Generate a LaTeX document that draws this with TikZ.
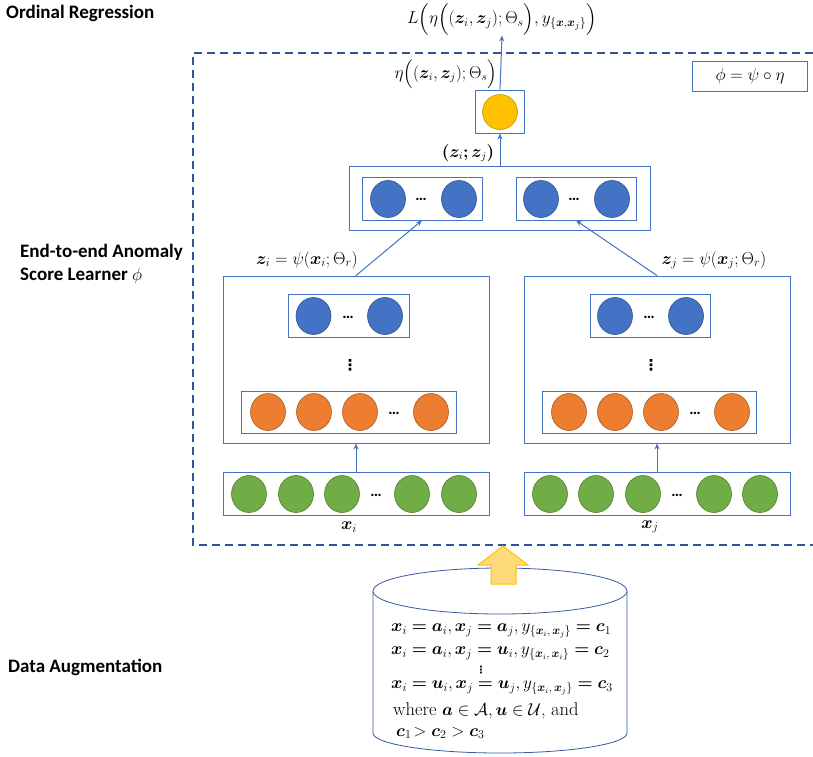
\documentclass[tikz,border=0pt]{standalone}
\usepackage{fontspec}
\usepackage{amsmath,amssymb,bm}
\usetikzlibrary{shapes.geometric,arrows.meta,calc}
\newfontfamily\lblfont{Carlito}
\newfontfamily\djv{DejaVu Sans}
\definecolor{bfill}{HTML}{4472C4}
\definecolor{bdraw}{HTML}{2F528F}
\definecolor{ofill}{HTML}{ED7D31}
\definecolor{odraw}{HTML}{AE5A21}
\definecolor{gfill}{HTML}{70AD47}
\definecolor{gdraw}{HTML}{507E32}
\definecolor{yfill}{HTML}{FFC000}
\definecolor{ydraw}{HTML}{BF9000}
\definecolor{lineblue}{HTML}{4472C4}
\definecolor{dashblue}{HTML}{2F5597}
\definecolor{afill}{HTML}{FFDA7A}
\definecolor{adraw}{HTML}{FFC000}
\begin{document}
\begin{tikzpicture}[x=1pt,y=-1pt,
  box/.style={draw=lineblue, line width=0.9pt, inner sep=0pt},
  neuron/.style={ellipse, minimum width=35pt, minimum height=37pt, line width=0.6pt, inner sep=0pt},
  bn/.style={neuron, fill=bfill, draw=bdraw},
  onn/.style={neuron, fill=ofill, draw=odraw},
  gn/.style={neuron, fill=gfill, draw=gdraw},
  yn/.style={neuron, minimum width=35pt, minimum height=35pt, fill=yfill, draw=ydraw},
  hdots/.style={font=\lblfont\bfseries\fontsize{16}{16}\selectfont, inner sep=0pt},
  vdotsn/.style={font=\djv\bfseries\fontsize{15}{15}\selectfont, inner sep=0pt},
  mlbl/.style={font=\fontsize{18}{20}\selectfont, inner sep=0pt},
  slbl/.style={font=\lblfont\bfseries\fontsize{19}{23}\selectfont, inner sep=0pt, align=left},
  arr/.style={draw=lineblue, line width=1pt, -{Stealth[length=6pt,width=5pt]}},
  cyltext/.style={font=\fontsize{17}{20}\selectfont, inner sep=0pt, anchor=west}
]
\useasboundingbox (0,0) rectangle (813,756);

% side labels
\node[slbl, anchor=west] (lor) at (6,13) {Ordinal Regression};
\node[slbl, anchor=west] (lend) at (20,264) {End-to-end Anomaly\\Score Learner $\phi$};
\node[slbl, anchor=west] (lda) at (8,667) {Data Augmentation};

% dashed frame
\draw[dashblue, line width=1.8pt, dash pattern=on 8pt off 5pt] (813,53) -- (193,53) -- (193,545) -- (813,545);

% top
\node[mlbl, font=\fontsize{17.5}{20}\selectfont] (title) at (502,19.5) {$L\Big(\eta\Big((\bm{z}_i,\bm{z}_j);\Theta_s\Big),y_{\{\bm{x},\bm{x}_j\}}\Big)$};
\node[mlbl, font=\fontsize{16}{19}\selectfont, anchor=east] (eta) at (497,74) {$\eta\Big((\bm{z}_i,\bm{z}_j);\Theta_s\Big)$};
\node[box, minimum width=115pt, minimum height=30pt, font=\fontsize{17}{19}\selectfont] (phi) at (750,76) {$\phi=\psi\circ\eta$};

\node[box, minimum width=49pt, minimum height=43pt] (ybox) at (500,111.5) {};
\node[yn] (y1) at (500,112) {};
\draw[arr] (ybox.north) -- (title.south);

\node[mlbl, font=\fontsize{16}{19}\selectfont] (zz) at (468,153) {$\bm{(}\bm{z}_i\bm{;}\bm{z}_j\bm{)}$};

% concat
\node[box, minimum width=301pt, minimum height=64pt] (cat) at (500,198) {};
\node[box, minimum width=120pt, minimum height=43pt] (catL) at (422,198.5) {};
\node[box, minimum width=120pt, minimum height=43pt] (catR) at (576,198.5) {};
\node[bn] (cl1) at (388,199) {};
\node[hdots] (cld) at (421,199) {…};
\node[bn] (cl2) at (459,199) {};
\node[bn] (cr1) at (541,199) {};
\node[hdots] (crd) at (574,199) {…};
\node[bn] (cr2) at (612,199) {};
\draw[arr] (cat.north -| ybox.south) -- (ybox.south);

% encoders
\node[box, minimum width=266pt, minimum height=167pt] (encL) at (356,359.5) {};
\node[box, minimum width=266pt, minimum height=167pt] (encR) at (657,359.5) {};
\node[mlbl] (zil) at (307,260) {$\bm{z}_i=\psi(\bm{x}_i;\Theta_r)$};
\node[mlbl] (zjl) at (714,260) {$\bm{z}_j=\psi(\bm{x}_j;\Theta_r)$};
\draw[arr] (encL.north) -- (catL.south);
\draw[arr] (encR.north) -- (catR.south);

% left encoder inner
\node[box, minimum width=121pt, minimum height=43pt] (lb) at (348.5,315.5) {};
\node[bn] (lb1) at (313.5,316) {};
\node[hdots] (lbd) at (348,317) {…};
\node[bn] (lb2) at (385,316) {};
\node[vdotsn] (lvd) at (350,365) {⋮};
\node[box, minimum width=215pt, minimum height=42pt] (lo) at (348.5,412) {};
\node[onn] (lo1) at (268,412) {};
\node[onn] (lo2) at (314,412) {};
\node[onn] (lo3) at (360,412) {};
\node[hdots] (lod) at (394,413) {…};
\node[onn] (lo4) at (431,412) {};

% right encoder inner
\node[box, minimum width=120pt, minimum height=43pt] (rb) at (650,315.5) {};
\node[bn] (rb1) at (615,316) {};
\node[hdots] (rbd) at (649,317) {…};
\node[bn] (rb2) at (686,316) {};
\node[vdotsn] (rvd) at (651,365) {⋮};
\node[box, minimum width=214pt, minimum height=42pt] (ro) at (649,412) {};
\node[onn] (ro1) at (569,412) {};
\node[onn] (ro2) at (615,412) {};
\node[onn] (ro3) at (661,412) {};
\node[hdots] (rod) at (695,413) {…};
\node[onn] (ro4) at (732,412) {};

% inputs
\node[box, minimum width=266pt, minimum height=43pt] (gL) at (356,493.5) {};
\node[box, minimum width=266pt, minimum height=43pt] (gR) at (657,493.5) {};
\node[gn] (gl1) at (249,494) {};
\node[gn] (gl2) at (296,494) {};
\node[gn] (gl3) at (342,494) {};
\node[hdots] (gld) at (376,495) {…};
\node[gn] (gl4) at (412,494) {};
\node[gn] (gl5) at (459,494) {};
\node[gn] (gr1) at (550,494) {};
\node[gn] (gr2) at (596,494) {};
\node[gn] (gr3) at (643,494) {};
\node[hdots] (grd) at (677,495) {…};
\node[gn] (gr4) at (714,494) {};
\node[gn] (gr5) at (760,494) {};
\draw[arr] (gL.north) -- (encL.south);
\draw[arr] (gR.north) -- (encR.south);
\node[mlbl] (xil) at (349,527) {$\bm{x}_i$};
\node[mlbl] (xjl) at (650,527) {$\bm{x}_j$};

% cylinder
\draw[lineblue!80!black, line width=0.8pt, fill=white]
  (373,591) -- (373,733) arc[start angle=180, end angle=0, x radius=127, y radius=20] -- (627,591);
\draw[lineblue!80!black, line width=0.8pt, fill=white] (500,591) ellipse[x radius=127, y radius=23];

% block arrow
\draw[adraw, line width=1pt, fill=afill, line join=miter]
  (491,584) -- (491,565) -- (478,565) -- (503,546) -- (528,565) -- (516,565) -- (516,584) -- cycle;

\node[cyltext] (c1) at (391,631) {$\bm{x}_i\bm{=}\bm{a}_i,\bm{x}_j\bm{=}\bm{a}_j,y_{\{\bm{x}_i,\,\bm{x}_j\}}\bm{=}\bm{c}_1$};
\node[cyltext] (c2) at (391,654) {$\bm{x}_i\bm{=}\bm{a}_i,\bm{x}_j\bm{=}\bm{u}_i,y_{\{\bm{x}_i,\,\bm{x}_i\}}\bm{=}\bm{c}_2$};
\node[vdotsn, font=\djv\bfseries\fontsize{10}{10}\selectfont] (cvd) at (481,670) {⋮};
\node[cyltext] (c3) at (391,688) {$\bm{x}_i\bm{=}\bm{u}_i,\bm{x}_j\bm{=}\bm{u}_j,y_{\{\bm{x}_i,\,\bm{x}_j\}}\bm{=}\bm{c}_3$};
\node[cyltext, font=\fontsize{18.5}{20}\selectfont] (c4) at (393,711) {where $\bm{a}\in\mathcal{A},\bm{u}\in\mathcal{U}$, and};
\node[cyltext] (c5) at (396,733) {$\bm{c}_1\!>\bm{c}_2>\bm{c}_3$};
\end{tikzpicture}
\end{document}
